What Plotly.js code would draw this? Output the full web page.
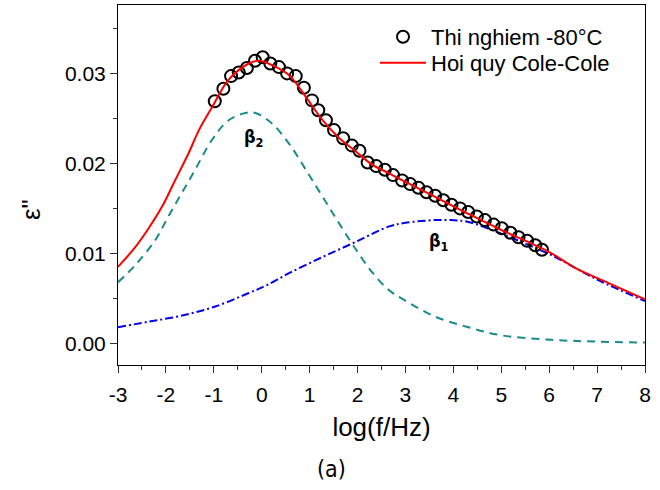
<!DOCTYPE html>
<html>
<head>
<meta charset="utf-8">
<script src="https://cdn.plot.ly/plotly-3.0.1.min.js"></script>
<style>html,body{margin:0;padding:0;background:#fff;}#chart{width:660px;height:490px;}</style>
</head>
<body>
<div id="chart"></div>
<script>
// Experimental points (Thi nghiem -80°C)
const expX = [-0.98,-0.80,-0.64,-0.48,-0.31,-0.14,0.02,0.18,0.36,0.53,0.71,0.88,1.05,1.18,1.34,1.51,1.70,1.88,2.04,2.21,2.39,2.57,2.74,2.93,3.10,3.27,3.44,3.62,3.79,3.96,4.14,4.31,4.49,4.66,4.84,5.01,5.19,5.36,5.54,5.71,5.85];
const expY = [0.0269,0.0283,0.0297,0.0301,0.0306,0.0314,0.0318,0.0311,0.0307,0.0300,0.0297,0.0284,0.0270,0.0259,0.0248,0.0237,0.0228,0.0220,0.0214,0.0201,0.0197,0.0193,0.0187,0.0181,0.0177,0.0173,0.0168,0.0164,0.0159,0.0154,0.0150,0.0146,0.0141,0.0137,0.0132,0.0128,0.0123,0.0118,0.0114,0.0109,0.0104];

// Cole-Cole fit (total)
const fitX = [-3,-2.64,-2.36,-2.08,-1.81,-1.53,-1.31,-1.03,-0.69,-0.27,-0.05,0.22,0.57,0.92,1.27,1.62,1.97,2.32,2.66,2.98,3.61,4.31,5.0,5.71,6.05,6.54,7.24,8.0];
const fitY = [0.0085,0.0107,0.0128,0.0152,0.0181,0.0211,0.0237,0.0263,0.0293,0.0311,0.0314,0.0309,0.0298,0.0274,0.0248,0.0228,0.0213,0.0198,0.0189,0.0180,0.0163,0.0144,0.0126,0.0109,0.0100,0.0084,0.0067,0.0049];

// beta2 component (dashed)
const b2X = [-3,-2.64,-2.22,-1.95,-1.67,-1.39,-1.04,-0.69,-0.34,-0.13,0.22,0.57,0.92,1.27,1.62,1.97,2.32,2.66,2.98,3.61,4.31,5.0,6.05,7.0,8.0];
const b2Y = [0.0068,0.0087,0.0115,0.0141,0.0167,0.0193,0.0226,0.0248,0.0256,0.0256,0.0244,0.0222,0.0193,0.0163,0.0133,0.0104,0.0078,0.0059,0.0048,0.0030,0.0018,0.0009,0.0004,0.0002,0.0001];

// beta1 component (dash-dot)
const b1X = [-3,-2.37,-1.66,-0.97,-0.27,0.08,0.57,1.27,1.97,2.66,3.0,3.61,3.96,4.31,5.0,5.71,6.05,7.0,8.0];
const b1Y = [0.0018,0.0024,0.0031,0.0041,0.0056,0.0064,0.0078,0.0096,0.0113,0.0130,0.0134,0.0137,0.0137,0.0135,0.0122,0.0106,0.0098,0.0071,0.0047];

const xTicks = [-3,-2,-1,0,1,2,3,4,5,6,7,8];
const xTickText = ['-3','-2','-1','0','1','2','3','4','5','6','7','8'];
const yTicks = [0.00,0.01,0.02,0.03];
const yTickText = ['0.00','0.01','0.02','0.03'];

const traces = [
  {x: b2X, y: b2Y, mode: 'lines', line: {color: '#1a8a8a', width: 2, dash: '8px,6px', shape: 'spline'}, showlegend: false, hoverinfo: 'skip'},
  {x: b1X, y: b1Y, mode: 'lines', line: {color: '#0000ee', width: 2, dash: '8px,3px,2px,3px', shape: 'spline'}, showlegend: false, hoverinfo: 'skip'},
  {x: expX, y: expY, mode: 'markers', name: 'Thi nghiem -80°C', legend: 'legend', marker: {symbol: 'circle-open', size: 12, color: '#000', line: {width: 2, color: '#000'}}},
  {x: fitX, y: fitY, mode: 'lines', name: 'Hoi quy Cole-Cole', legend: 'legend2', line: {color: '#ff0000', width: 2, shape: 'spline'}}
];

const fam = 'Arial, Liberation Sans, sans-serif';

const pw = 660 - 118 - 15, ph = 490 - 5 - 125;
const px2x = p => (p - 118) / pw;
const py2y = p => (490 - 125 - p) / ph;

const legFont = {family: fam, size: 22, color: '#000'};
const layout = {
  width: 660, height: 490,
  margin: {l: 118, r: 15, t: 5, b: 125},
  paper_bgcolor: '#fff', plot_bgcolor: '#fff',
  font: {family: fam, color: '#000'},
  showlegend: true,
  legend: {x: px2x(375), y: py2y(37), xanchor: 'left', yanchor: 'middle', bgcolor: 'rgba(0,0,0,0)', font: legFont, itemwidth: 46},
  legend2: {x: px2x(375), y: py2y(63), xanchor: 'left', yanchor: 'middle', bgcolor: 'rgba(0,0,0,0)', font: legFont, itemwidth: 46},
  xaxis: {
    range: [-3, 8], tickvals: xTicks, ticktext: xTickText, ticks: 'outside', ticklen: 7, tickwidth: 1, tickcolor: '#333',
    showline: true, linecolor: '#000', linewidth: 1, mirror: true, showgrid: false, zeroline: false,
    ticklabelstandoff: 4,
    tickfont: {family: fam, size: 21, color: '#000'},
    minor: {dtick: 0.5, ticks: 'outside', ticklen: 4, tickcolor: '#333', showgrid: false},
    title: {text: 'log(f/Hz)', font: {family: fam, size: 26, color: '#000'}, standoff: 12}
  },
  yaxis: {
    range: [-0.0024, 0.0376], tickvals: yTicks, ticktext: yTickText, ticks: 'outside', ticklen: 7, tickwidth: 1, tickcolor: '#333',
    showline: true, linecolor: '#000', linewidth: 1, mirror: true, showgrid: false, zeroline: false,
    tickfont: {family: fam, size: 21, color: '#000'},
    minor: {tickvals: [-0.005,0.005,0.015,0.025,0.035], ticks: 'outside', ticklen: 4, tickcolor: '#333', showgrid: false}
  },
  annotations: [
    {x: -0.17, y: 0.0228, xref: 'x', yref: 'y', text: '<b>β<sub>2</sub></b>', showarrow: false, font: {family: 'DejaVu Sans Condensed, DejaVu Sans, sans-serif', size: 18, color: '#000'}},
    {x: 3.70, y: 0.0113, xref: 'x', yref: 'y', text: '<b>β<sub>1</sub></b>', showarrow: false, font: {family: 'DejaVu Sans Condensed, DejaVu Sans, sans-serif', size: 18, color: '#000'}},
    {x: px2x(331), y: py2y(469), xref: 'paper', yref: 'paper', xanchor: 'center', yanchor: 'middle', text: '(a)', showarrow: false, font: {family: 'DejaVu Sans Condensed, sans-serif', size: 23, color: '#000'}},
    {x: px2x(31), y: py2y(210), xref: 'paper', yref: 'paper', xanchor: 'center', yanchor: 'middle', text: 'ε"', textangle: -90, showarrow: false, font: {family: fam, size: 26, color: '#000'}}
  ]
};

Plotly.newPlot('chart', traces, layout, {displayModeBar: false, staticPlot: true});
</script>
</body>
</html>
